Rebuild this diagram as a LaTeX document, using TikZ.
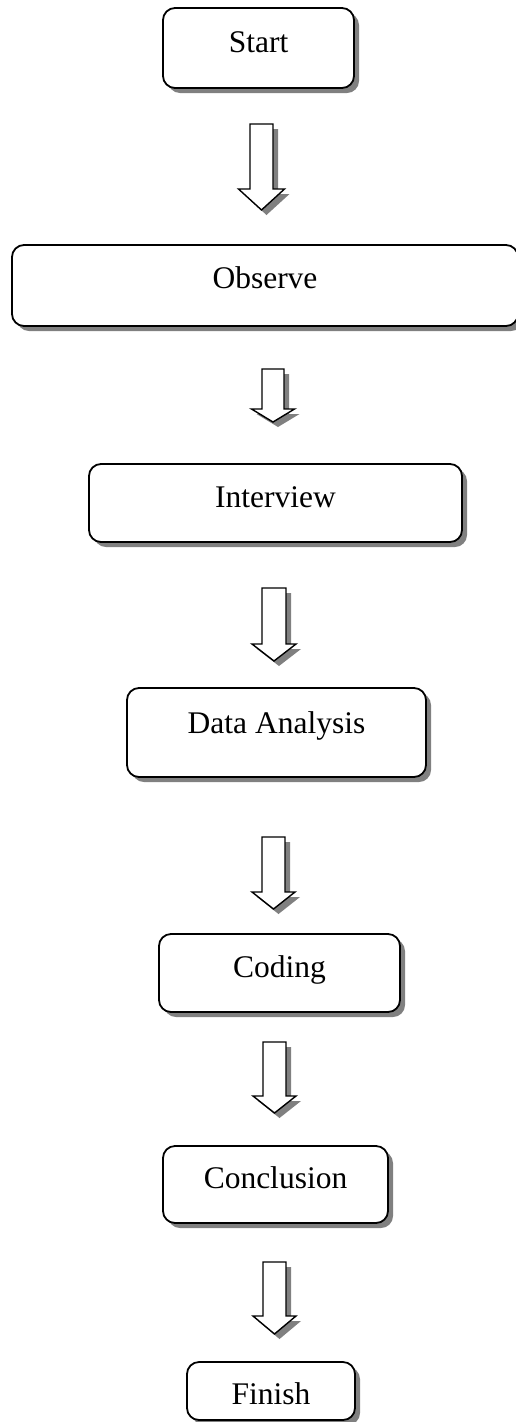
\documentclass[tikz,border=0pt]{standalone}
\usepackage{fontspec}
\setmainfont{Liberation Serif}
\usetikzlibrary{shadows}
\tikzset{
  shade/.style={drop shadow={shadow xshift=5pt, shadow yshift=-5pt, fill=black!50, opacity=1}},
  box/.style={draw=black, line width=1.8pt, rounded corners=12pt, fill=white, shade,
    inner xsep=0pt, inner ysep=0pt, anchor=base, font=\fontsize{31.5}{36}\selectfont},
  blockarrow/.style={draw=black, line width=1.4pt, fill=white, shade, line join=miter}
}
\newcommand\blockarr[6]{%
  % #1 center x, #2 top, #3 head base, #4 tip, #5 shaft half width, #6 head half width
  \draw[blockarrow] ({#1-#5},{-#2}) -- ({#1+#5},{-#2}) -- ({#1+#5},{-#3}) -- ({#1+#6},{-#3})
    -- (#1,{-#4}) -- ({#1-#6},{-#3}) -- ({#1-#5},{-#3}) -- cycle;}
\begin{document}
\begin{tikzpicture}[x=1pt,y=1pt]
\useasboundingbox (0,0) rectangle (515,-1422);
\fill[white] (0,0) rectangle (515,-1422);

\node[box, minimum width=191pt, text height=44pt, text depth=36pt] (start) at (258.5,-52) {Start};
\node[box, minimum width=506pt, text height=43pt, text depth=38pt] (observe) at (265,-288) {Observe};
\node[box, minimum width=373pt, text height=43pt, text depth=35pt] (interview) at (275.5,-507) {Interview};
\node[box, minimum width=299pt, text height=45pt, text depth=44pt] (analysis) at (276.5,-733) {Data Analysis};
\node[box, minimum width=241pt, text height=43pt, text depth=35pt] (coding) at (279.5,-977) {Coding};
\node[box, minimum width=225pt, text height=42pt, text depth=35pt] (conclusion) at (275.5,-1188) {Conclusion};
\node[box, minimum width=168pt, text height=42pt, text depth=16pt] (finish) at (271,-1404) {Finish};

\blockarr{261.5}{124}{189}{210}{11.5}{23}
\blockarr{273}{369}{409}{422}{11}{21.5}
\blockarr{274}{588}{644}{661}{12}{22}
\blockarr{273.5}{837}{892}{909}{11.5}{21.5}
\blockarr{274.5}{1042}{1096}{1113}{11.5}{21.5}
\blockarr{274.5}{1262}{1316}{1334}{11.5}{21.5}
\end{tikzpicture}
\end{document}
